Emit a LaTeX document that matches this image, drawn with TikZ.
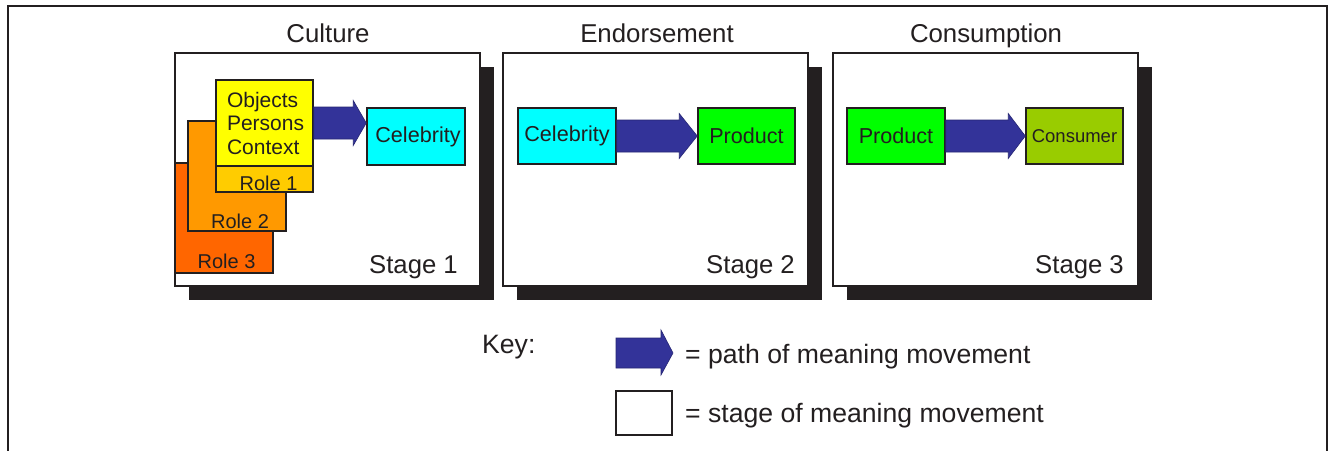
\documentclass[tikz,border=0pt]{standalone}
\usepackage{fontspec}
\setmainfont{Liberation Sans}
\usetikzlibrary{calc,shadows}
\definecolor{ink}{HTML}{231F20}
\definecolor{arrowblue}{HTML}{333399}
\definecolor{objyellow}{HTML}{FFFF00}
\definecolor{roleA}{HTML}{FFCC00}
\definecolor{roleB}{HTML}{FF9900}
\definecolor{roleC}{HTML}{FF6600}
\definecolor{celebcyan}{HTML}{00FFFF}
\definecolor{prodgreen}{HTML}{00FF00}
\definecolor{consgreen}{HTML}{99CC00}
\newcommand{\fatarrow}[3]{%
  \fill[arrowblue, draw=arrowblue!75!black, line width=0.6pt]
    let \p1=(#1.east), \p2=(#2.west) in
    (\x1,\y1+16pt) -- (\x2-#3,\y1+16pt) -- (\x2-#3,\y1+22.5pt) -- (\x2,\y1)
    -- (\x2-#3,\y1-22.5pt) -- (\x2-#3,\y1-16pt) -- (\x1,\y1-16pt) -- cycle;}
\begin{document}
\begin{tikzpicture}[x=1pt,y=-1pt, line join=miter, text=ink,
  stagebox/.style={draw=ink, line width=1.8pt, fill=white, minimum width=305pt, minimum height=233pt,
    inner sep=0pt, drop shadow={shadow xshift=14pt, shadow yshift=-14pt, fill=ink, opacity=1}},
  inbox/.style={draw=ink, line width=1.5pt, inner sep=0pt, font=\fontsize{21.6}{24}\selectfont},
  rolebox/.style={draw=ink, line width=1.5pt, inner sep=0pt, minimum width=98pt, minimum height=110pt},
  roletxt/.style={inner sep=0pt, anchor=base, font=\fontsize{20}{24}\selectfont},
  title/.style={inner sep=0pt, anchor=base, font=\fontsize{25.8}{30}\selectfont},
  stagetxt/.style={inner sep=0pt, anchor=base east, font=\fontsize{25.7}{30}\selectfont},
  keytxt/.style={inner sep=0pt, anchor=base west, font=\fontsize{26.6}{30}\selectfont}]
\useasboundingbox (0,0) rectangle (1329,450);
\fill[white] (0,0) rectangle (1329,450);
% outer frame
\draw[ink, line width=2.2pt] (8,452) -- (8,6) -- (1327,6) -- (1327,452);
% titles
\node[title] (t1) at (328,42) {Culture};
\node[title] (t2) at (657,42) {Endorsement};
\node[title] (t3) at (986,42) {Consumption};
% stage boxes
\node[stagebox] (s1) at (327.5,169.5) {};
\node[stagebox] (s2) at (655.5,169.5) {};
\node[stagebox] (s3) at (985.5,169.5) {};
\node[stagetxt] (s1l) at (458,273) {Stage 1};
\node[stagetxt] (s2l) at (795,273) {Stage 2};
\node[stagetxt] (s3l) at (1124,273) {Stage 3};
% stage 1 contents
\node[rolebox, fill=roleC] (r3) at (224,218) {};
\node[roletxt] (r3t) at (226.5,268) {Role 3};
\node[rolebox, fill=roleB] (r2) at (237,176) {};
\node[roletxt] (r2t) at (240,228) {Role 2};
\node[rolebox, fill=roleA, minimum width=97pt, minimum height=112pt] (r1) at (264.5,136) {};
\node[roletxt] (r1t) at (268.5,190) {Role 1};
\node[inbox, fill=objyellow, minimum width=97pt, minimum height=86pt, text width=75pt,
  align=left, inner xsep=11pt, font=\fontsize{21}{23.5}\selectfont] (obj) at (264.5,123)
  {Objects\\Persons\\Context};
\node[inbox, fill=celebcyan, minimum width=98pt, minimum height=57pt] (c1) at (416,136.5) {\hspace*{4pt}Celebrity};
\fatarrow{obj}{c1}{13pt}
% stage 2 contents
\node[inbox, fill=celebcyan, minimum width=98pt, minimum height=56pt] (c2) at (567,136) {Celebrity};
\node[inbox, fill=prodgreen, minimum width=97pt, minimum height=56pt] (p2) at (746.5,136) {Product};
\fatarrow{c2}{p2}{18pt}
% stage 3 contents
\node[inbox, fill=prodgreen, minimum width=98pt, minimum height=56pt] (p3) at (896,136) {Product};
\node[inbox, fill=consgreen, minimum width=97pt, minimum height=56pt, font=\fontsize{18.5}{22}\selectfont] (cn) at (1074.5,136) {Consumer};
\fatarrow{p3}{cn}{17pt}
% key
\node[keytxt] (key) at (482,353) {Key:};
\fill[arrowblue, draw=arrowblue!75!black, line width=0.6pt]
  (616,338) -- (661,338) -- (661,330) -- (673,353) -- (661,375) -- (661,368) -- (616,368) -- cycle;
\node[keytxt] (k1) at (685,363) {= path of meaning movement};
\node[draw=ink, line width=1.5pt, fill=white, minimum width=56pt, minimum height=44pt, inner sep=0pt] (kb) at (644,413) {};
\node[keytxt] (k2) at (685,422) {= stage of meaning movement};
\end{tikzpicture}
\end{document}
